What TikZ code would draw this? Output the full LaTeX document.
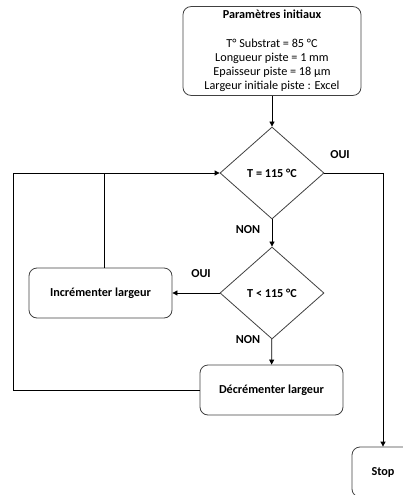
\documentclass[tikz,border=0pt]{standalone}
\usepackage{fontspec}
\setmainfont{Carlito}
\usetikzlibrary{shapes.geometric,arrows.meta}
\tikzset{
  boite/.style={draw=black!75,rounded corners=8pt,line width=0.8pt,align=center,font=\fontsize{12.2}{14.3}\selectfont\bfseries},
  losange/.style={draw=black!75,diamond,line width=0.8pt,minimum width=104pt,minimum height=92pt,inner sep=0pt,font=\fontsize{12.2}{14.3}\selectfont\bfseries},
  lien/.style={line width=0.8pt},
  etiq/.style={font=\fontsize{12.2}{14.3}\selectfont\bfseries}
}
\begin{document}
\begin{tikzpicture}[x=1pt,y=-1pt,>={Triangle[length=5pt,width=5pt]}]
  \clip (0,0) rectangle (403,495);

  % blocs
  \node[boite,minimum width=178pt,minimum height=88pt,font=\fontsize{12.2}{14.3}\selectfont] (init) at (272,51)
    {\textbf{Paramètres initiaux}\\[14.3pt]T° Substrat = 85 °C\\Longueur piste = 1 mm\\Epaisseur piste = 18 µm\\Largeur initiale piste : Excel};
  \node[losange] (test1) at (272,173) {T = 115 °C};
  \node[losange] (test2) at (272,293) {T < 115 °C};
  \node[boite,minimum width=143pt,minimum height=50pt] (incr) at (100.5,293) {Incrémenter largeur};
  \node[boite,minimum width=143pt,minimum height=50pt] (decr) at (271.5,390) {Décrémenter largeur};
  \node[boite,minimum width=62pt,minimum height=50pt] (stop) at (383,472) {Stop};

  % points de passage
  \coordinate (J) at (104,173);
  \coordinate (G) at (13,173);
  \coordinate (D) at (383,173);

  % liaisons
  \draw[lien,->] (init) -- (test1);
  \draw[lien,->] (test1) -- (test2);
  \draw[lien,->] (test1.east) -- (D) -- (stop.north);
  \draw[lien,->] (test2.west) -- (incr.east);
  \draw[lien,->] (test2) -- (decr);
  \draw[lien,->] (decr.west) -- (decr.west -| G) -- (G) -- (test1.west);
  \draw[lien] (incr.north -| J) -- (J);

  % OUI / NON
  \node[etiq] (oui1) at (340,155) {OUI};
  \node[etiq] (non1) at (248,230) {NON};
  \node[etiq] (oui2) at (201,274) {OUI};
  \node[etiq] (non2) at (248,340) {NON};
\end{tikzpicture}
\end{document}
